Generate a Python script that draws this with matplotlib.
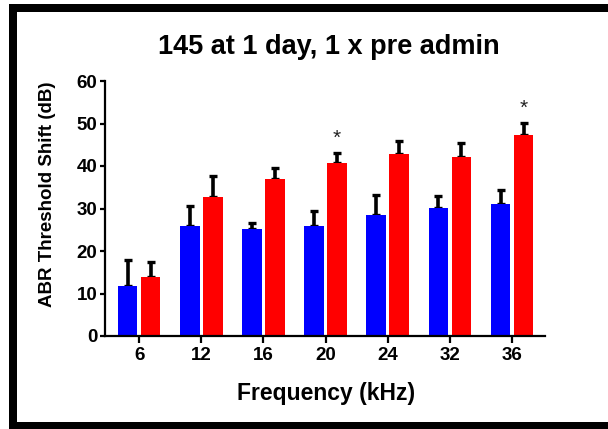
import matplotlib
matplotlib.use("Agg")
import matplotlib.pyplot as plt
from matplotlib.patches import Rectangle
import numpy as np

# ABR threshold shift by test frequency, two groups (mean + upper SEM)
freqs = ["6", "12", "16", "20", "24", "32", "36"]
blue_mean = [11.8, 26.0, 25.2, 26.0, 28.5, 30.2, 31.0]
blue_err = [6.0, 4.7, 1.5, 3.3, 4.6, 2.7, 3.4]
red_mean = [13.8, 32.7, 37.0, 40.7, 42.9, 42.1, 47.2]
red_err = [3.6, 5.0, 2.5, 2.3, 3.1, 3.3, 2.9]
significant = [False, False, False, True, False, False, True]

W, H = 608, 429
plt.rcParams["font.family"] = ["Liberation Sans", "DejaVu Sans"]
fig = plt.figure(figsize=(W / 100, H / 100), dpi=100)
fig.patch.set_facecolor("white")

# frame around the figure (left, top, bottom edges)
def px_rect(x0, y0, x1, y1):
    fig.patches.append(Rectangle((x0 / W, 1 - y1 / H), (x1 - x0) / W, (y1 - y0) / H,
                                 transform=fig.transFigure, facecolor="black",
                                 edgecolor="none", zorder=10))

px_rect(9, 4, 608, 11.7)
px_rect(9, 4, 16.7, 429)
px_rect(9, 422.3, 608, 429)

ax = fig.add_axes([105 / W, 1 - 336 / H, (545 - 105) / W, (336 - 81) / H])

x = np.arange(len(freqs))
off, bw = 0.185, 0.315
n = len(freqs)
ekw = dict(ecolor="black", elinewidth=2.6, capsize=3.0, capthick=2.4)

ax.bar(x - off, blue_mean, width=bw, color="#0000FF", zorder=2)
ax.bar(x + off, red_mean, width=bw, color="#FF0000", zorder=2)
ax.errorbar(x - off, blue_mean, yerr=[[0] * n, blue_err], fmt="none", zorder=1, **ekw)
ax.errorbar(x + off, red_mean, yerr=[[0] * n, red_err], fmt="none", zorder=1, **ekw)

for i, sig in enumerate(significant):
    if sig:
        ax.text(x[i] + off, red_mean[i] + red_err[i] + 1.3, "*", ha="center",
                va="bottom", fontsize=15, color="#222222")

ax.set_xlim(-0.55, n - 1 + 0.53)
ax.set_ylim(0, 60)
ax.set_yticks(range(0, 61, 10))
ax.set_xticks(x)
ax.set_xticklabels(freqs)

for s in ["top", "right"]:
    ax.spines[s].set_visible(False)
for s in ["left", "bottom"]:
    ax.spines[s].set_linewidth(1.6)

ax.tick_params(axis="y", length=3.8, width=1.6, pad=1.7, labelsize=13.5)
ax.tick_params(axis="x", length=5.0, width=1.6, pad=3.0, labelsize=13.5)
for lab in ax.get_xticklabels() + ax.get_yticklabels():
    lab.set_fontweight("bold")

fig.text(329 / W, 1 - 54 / H, "145 at 1 day, 1 x pre admin", ha="center",
         va="baseline", fontsize=19.5, fontweight="bold")
fig.text(326.5 / W, 1 - 400 / H, "Frequency (kHz)", ha="center",
         va="baseline", fontsize=16.5, fontweight="bold")
fig.text(48 / W, 1 - 194 / H, "ABR Threshold Shift (dB)", ha="center",
         va="center", rotation=90, fontsize=13.5, fontweight="bold")

fig.savefig("out.png", dpi=100, facecolor="white")
